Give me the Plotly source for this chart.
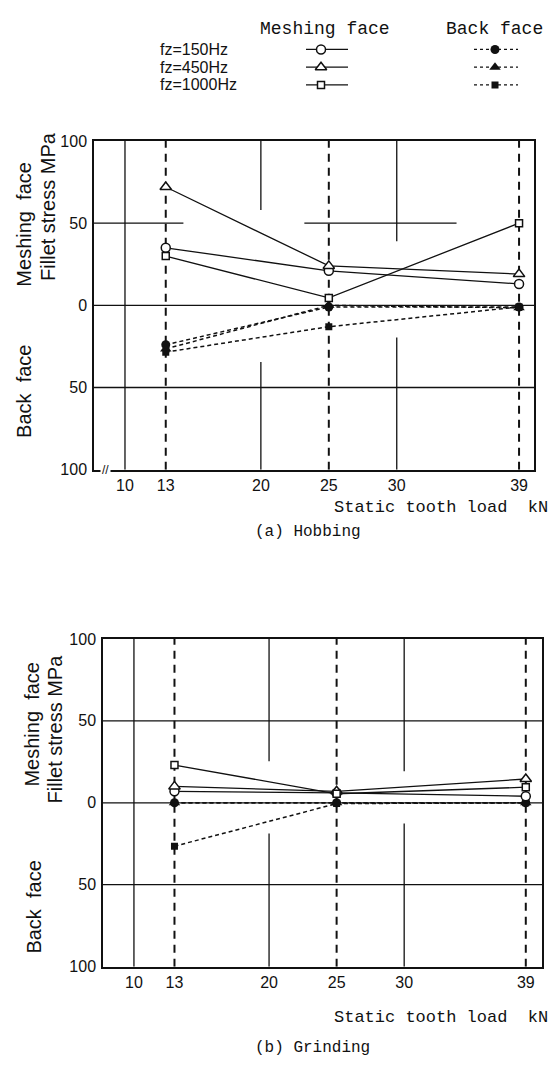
import plotly.graph_objects as go

W, H = 556, 1069

# ---------------- data ----------------
loads = [13, 25, 39]
x_ticks = [10, 13, 20, 25, 30, 39]
y_tickvals = [-100, -50, 0, 50, 100]
y_ticktext = ["100", "50", "0", "50", "100"]

# (a) Hobbing  (meshing face positive, back face negative)
hob_mesh_150 = [35, 21, 13]
hob_mesh_450 = [72, 24, 19]
hob_mesh_1000 = [30, 4.5, 50]
hob_back_150 = [-24, -1, -1]
hob_back_450 = [-26.5, 0, -1.5]
hob_back_1000 = [-28.5, -13, -1]

# (b) Grinding
grd_mesh_150 = [7, 6, 4]
grd_mesh_450 = [10, 7, 14.5]
grd_mesh_1000 = [23, 5.5, 9.5]
grd_back_150 = [0, 0, 0]
grd_back_450 = [0, 0, 0]
grd_back_1000 = [-26.5, -0.5, 0]

freq_labels = ["fz=150Hz", "fz=450Hz", "fz=1000Hz"]
symbols = ["circle", "triangle-up", "square"]
msize = [9, 10, 7]

fig = go.Figure()

def px_x(p):
    return p / W

def px_y(p):
    return 1 - p / H

top_dom_x = [px_x(86), px_x(526)]
top_dom_y = [px_y(461), px_y(127)]
bot_dom_x = [px_x(95), px_x(534)]
bot_dom_y = [px_y(966), px_y(633)]
LEG_H = 100

BLACK = "#111"

def add_panel(xa, ya, mesh, back):
    for i in range(3):
        fig.add_trace(go.Scatter(
            x=loads, y=back[i], xaxis=xa, yaxis=ya, mode="lines+markers",
            line=dict(color=BLACK, width=1.5, dash="4px,3px"),
            marker=dict(symbol=symbols[i], size=msize[i], color=BLACK),
            showlegend=False))
    for i in range(3):
        fig.add_trace(go.Scatter(
            x=loads, y=mesh[i], xaxis=xa, yaxis=ya, mode="lines+markers",
            line=dict(color=BLACK, width=1.3),
            marker=dict(symbol=symbols[i], size=msize[i], color="white",
                        line=dict(width=1.5, color=BLACK)),
            showlegend=False))

add_panel("x", "y", [hob_mesh_150, hob_mesh_450, hob_mesh_1000],
          [hob_back_150, hob_back_450, hob_back_1000])
add_panel("x2", "y2", [grd_mesh_150, grd_mesh_450, grd_mesh_1000],
          [grd_back_150, grd_back_450, grd_back_1000])

# ---------------- legend (helper axis, pixel-like layout coordinates) ----------------
leg_rows = [34, 52, 70]
for r, yy in enumerate(leg_rows):
    fig.add_trace(go.Scatter(x=[298, 340], y=[yy, yy], xaxis="x3", yaxis="y3",
                             mode="lines", line=dict(color=BLACK, width=1.3),
                             showlegend=False, hoverinfo="skip"))
    fig.add_trace(go.Scatter(x=[313], y=[yy], xaxis="x3", yaxis="y3", mode="markers",
                             marker=dict(symbol=symbols[r], size=msize[r], color="white",
                                         line=dict(width=1.5, color=BLACK)),
                             showlegend=False, hoverinfo="skip"))
    fig.add_trace(go.Scatter(x=[466, 510], y=[yy, yy], xaxis="x3", yaxis="y3",
                             mode="lines", line=dict(color=BLACK, width=1.3, dash="3px,3px"),
                             showlegend=False, hoverinfo="skip"))
    fig.add_trace(go.Scatter(x=[487], y=[yy], xaxis="x3", yaxis="y3", mode="markers",
                             marker=dict(symbol=symbols[r], size=msize[r], color=BLACK),
                             showlegend=False, hoverinfo="skip"))

axis_common = dict(showgrid=False, zeroline=False, showline=True, mirror=True,
                   linecolor=BLACK, linewidth=1.5, ticks="",
                   tickfont=dict(family="Liberation Sans", size=16, color=BLACK))

fig.update_layout(
    width=W, height=H, margin=dict(l=0, r=0, t=0, b=0),
    paper_bgcolor="white", plot_bgcolor="rgba(0,0,0,0)",
    xaxis=dict(domain=top_dom_x, range=[7.72, 40.1], anchor="y",
               tickvals=x_ticks, **axis_common),
    yaxis=dict(domain=top_dom_y, range=[-100, 100], anchor="x",
               tickvals=y_tickvals, ticktext=y_ticktext, ticklabelstandoff=2, **axis_common),
    xaxis2=dict(domain=bot_dom_x, range=[7.71, 40.2], anchor="y2",
                tickvals=x_ticks, **axis_common),
    yaxis2=dict(domain=bot_dom_y, range=[-100, 100], anchor="x2",
                tickvals=y_tickvals, ticktext=y_ticktext, ticklabelstandoff=2, **axis_common),
    xaxis3=dict(domain=[0, 1], range=[0, W], visible=False, fixedrange=True, anchor="y3"),
    yaxis3=dict(domain=[px_y(LEG_H), 1], range=[LEG_H, 0], visible=False, fixedrange=True,
                anchor="x3"),
    showlegend=False,
)

# ---------------- grid shapes ----------------
def vline(xref, yref, x, y0, y1, dash=None, width=1.3):
    fig.add_shape(type="line", xref=xref, yref=yref, x0=x, x1=x, y0=y0, y1=y1,
                  line=dict(color=BLACK, width=width, dash=dash), layer="below")

def hline(xref, yref, y, x0, x1, width=1.3):
    fig.add_shape(type="line", xref=xref, yref=yref, x0=x0, x1=x1, y0=y, y1=y,
                  line=dict(color=BLACK, width=width), layer="below")

# top panel
vline("x", "y", 10, -100, 100)
vline("x", "y", 20, 100, 58)
vline("x", "y", 20, -34.5, -100)
vline("x", "y", 30, 100, 39)
vline("x", "y", 30, -19.6, -100)
hline("x", "y", 50, 7.72, 14.3)
hline("x", "y", 50, 23.2, 34.4)
hline("x", "y", 0, 7.72, 40.1)
hline("x", "y", -50, 7.72, 40.1)
for xv in loads:
    vline("x", "y", xv, -100, 100, dash="8px,6px", width=2)

# bottom panel
vline("x2", "y2", 10, -100, 100)
vline("x2", "y2", 20, 100, 25.3)
vline("x2", "y2", 20, -18.7, -100)
vline("x2", "y2", 30, 100, 19.3)
vline("x2", "y2", 30, -12.7, -100)
hline("x2", "y2", 50, 7.71, 40.2)
hline("x2", "y2", 0, 7.71, 40.2)
hline("x2", "y2", -50, 7.71, 40.2)
for xv in loads:
    vline("x2", "y2", xv, -100, 100, dash="8px,6px", width=2)

# ---------------- text ----------------
SANS = "Liberation Sans"
MONO = "Liberation Mono"

def txt(text, x, y, size=15, family=SANS, angle=0, xanchor="center", yanchor="middle"):
    fig.add_annotation(text=text, x=x / W, y=1 - y / H, xref="paper", yref="paper",
                       showarrow=False, textangle=angle, xanchor=xanchor, yanchor=yanchor,
                       font=dict(family=family, size=size, color=BLACK))

# legend text
txt("Meshing face", 250, 13, size=18, family=MONO, xanchor="left")
txt("Back face", 436, 13, size=18, family=MONO, xanchor="left")
for lab, yy in zip(freq_labels, leg_rows):
    txt(lab, 150, yy, size=16, xanchor="left")

# top panel labels
txt("Meshing  face", 16, 212, size=20, angle=-90)
txt("Fillet stress MPa", 40, 194, size=20, angle=-90)
txt("Back  face", 16, 382, size=20, angle=-90)
txt("Static tooth load  kN", 542, 499, size=17, family=MONO, xanchor="right")
txt("(a) Hobbing", 300, 524, size=16, family=MONO)
fig.add_annotation(text="//", x=8.6, y=-100, xref="x", yref="y", showarrow=False,
                   font=dict(family=SANS, size=12, color=BLACK), bgcolor="white")

# bottom panel labels
txt("Meshing  face", 24, 720, size=20, angle=-90)
txt("Fillet stress MPa", 47, 725, size=20, angle=-90)
txt("Back  face", 26, 906, size=20, angle=-90)
txt("Static tooth load  kN", 542, 1018, size=17, family=MONO, xanchor="right")
txt("(b) Grinding", 304, 1049, size=16, family=MONO)

fig.write_html("out.html")
